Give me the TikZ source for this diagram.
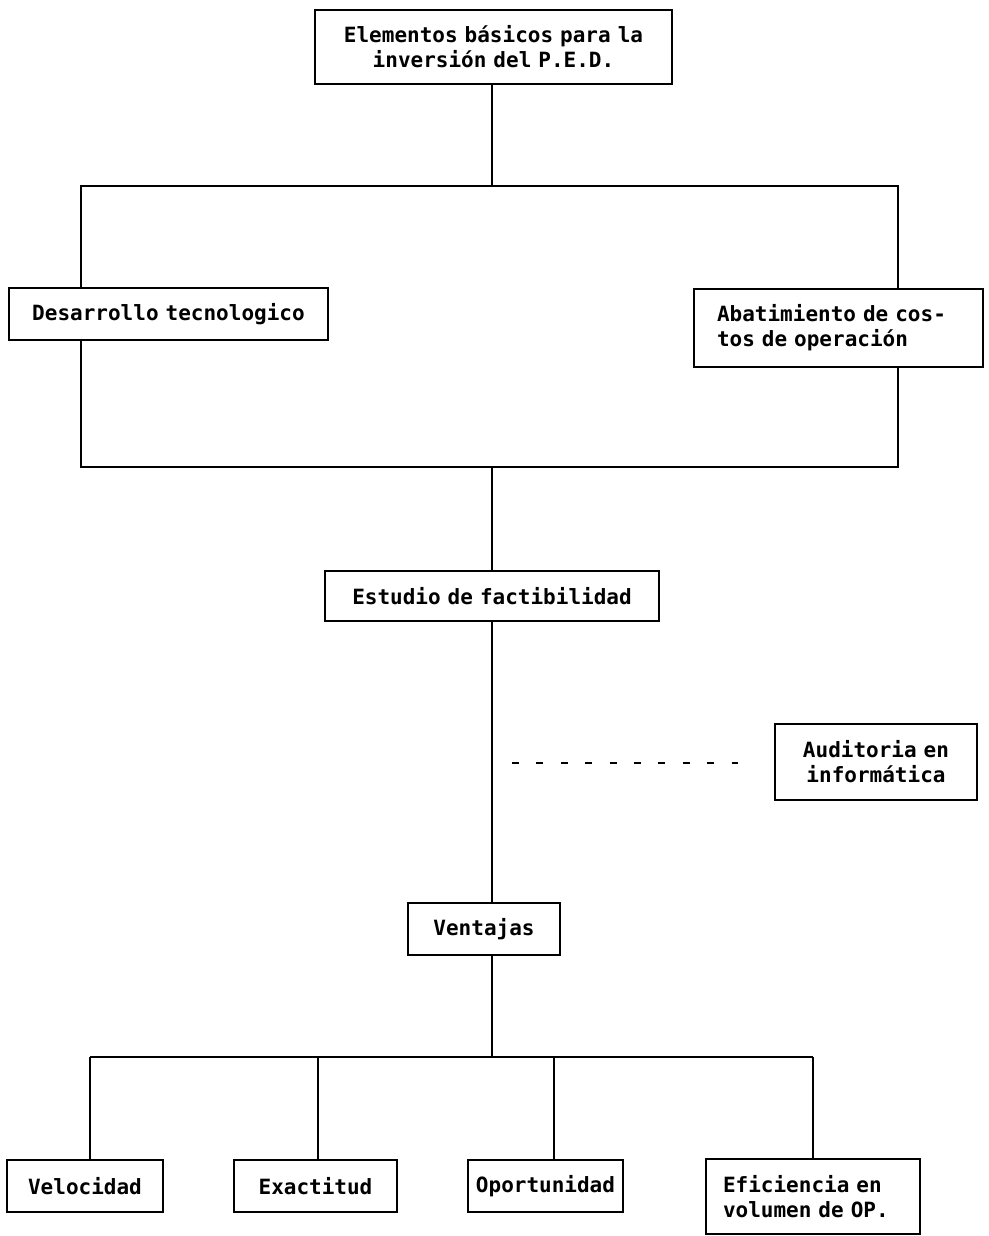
\documentclass[tikz,border=0pt]{standalone}
\usepackage{fontspec}
\setmonofont{DejaVu Sans Mono}[WordSpace={1,0,0}]
\usetikzlibrary{backgrounds}
\begin{document}
\begin{tikzpicture}[x=1pt, y=-1pt,
  box/.style={draw, line width=2pt, fill=white, inner ysep=0pt,
    font=\ttfamily\bfseries\fontsize{21}{25}\selectfont},
  ctr/.style 2 args={minimum width=#1, minimum height=#2,
    inner xsep=6pt, text width=#1-12pt, align=center},
  lft/.style n args={3}{minimum width=#1, minimum height=#2,
    inner xsep=#3, text width=#1-2*#3, align=left},
  link/.style={line width=2pt},
  dotted link/.style={line width=2pt, dash pattern=on 7pt off 17.4pt}]
\useasboundingbox (0,0) rectangle (988,1236);

% boxes
\node[box, ctr={357}{74}] (top) at (493.5,47) {Elementos básicos para la\\inversión del P.E.D.};
\node[box, ctr={319}{52}] (des) at (168.5,314) {Desarrollo tecnologico};
\node[box, lft={289}{78}{23pt}] (aba) at (838.5,328) {Abatimiento de cos-\\tos de operación};
\node[box, ctr={334}{50}] (est) at (492,596) {Estudio de factibilidad};
\node[box, ctr={202}{76}] (aud) at (876,762) {Auditoria en\\informática};
\node[box, ctr={152}{52}] (ven) at (484,929) {Ventajas};
\node[box, ctr={156}{52}] (vel) at (85,1186) {Velocidad};
\node[box, ctr={163}{52}] (exa) at (315.5,1186) {Exactitud};
\node[box, ctr={155}{52}] (opo) at (545.5,1186) {Oportunidad};
\node[box, lft={214}{75}{17pt}] (efi) at (813,1196.5) {Eficiencia en\\volumen de OP.};

% frame joining the two elements
\coordinate (fTL) at (81,186);
\coordinate (fTR) at (898,186);
\coordinate (fBR) at (898,467);
\coordinate (fBL) at (81,467);
\coordinate (fTop) at (492,186);
\coordinate (fBot) at (492,467);

% audit hint
\coordinate (dA) at (512,763);
\coordinate (dB) at (738,763);

% lower bus
\coordinate (bus) at (492,1057);
\coordinate (j1) at (90,1057);
\coordinate (j2) at (318,1057);
\coordinate (j3) at (554,1057);
\coordinate (j4) at (813,1057);

\begin{pgfonlayer}{background}
  \draw[link] (top.south -| fTop) -- (fTop);
  \draw[link] (fTL) -- (fTR) -- (fBR) -- (fBL) -- cycle;
  \draw[link] (fBot) -- (est.north -| fBot);
  \draw[link] (est.south -| fBot) -- (ven.north -| fBot);
  \draw[link] (ven.south -| fBot) -- (bus);
  \draw[link] (j1) -- (j4);
  \draw[link] (j1) -- (j1 |- vel.north);
  \draw[link] (j2) -- (j2 |- exa.north);
  \draw[link] (j3) -- (j3 |- opo.north);
  \draw[link] (j4) -- (j4 |- efi.north);
  \draw[dotted link] (dA) -- (dB);
\end{pgfonlayer}
\end{tikzpicture}
\end{document}
